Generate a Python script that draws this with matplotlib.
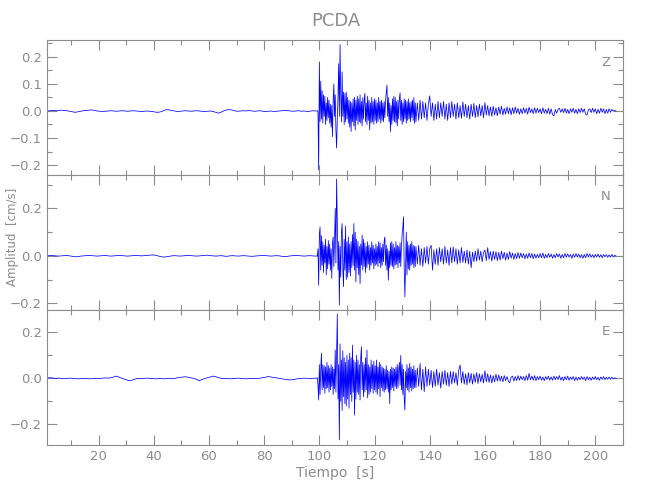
import numpy as np
import matplotlib
matplotlib.use('Agg')
import matplotlib.pyplot as plt
from matplotlib.ticker import MultipleLocator

plt.rcParams['font.family'] = ['Liberation Sans Narrow', 'DejaVu Sans']

# Velocity records of station PCDA, values in 0.001 cm/s.
# Each record is stored in three pieces with their own sample spacing:
# quiet part (1 s), strong motion (0.25 s), coda (0.5 s).
quiet_start, quiet_step = 1.5, 1.0
strong_start, strong_step = 99.0, 0.25
coda_start, coda_step = 135.0, 0.5

z_quiet = [0, 1, 2, 1, 2, 3, 2, 1, -1, -3,
           -5, -3, -1, 1, 2, 3, 4, 2, 0, -1,
           -2, -1, 0, 1, 0, -1, 0, 1, 0, -1,
           0, 1, 0, -1, -2, -1, 0, -1, -2, -4,
           -5, -3, 1, 5, 4, 2, 0, -2, -1, 0,
           1, 0, -1, 0, 1, 0, -1, -2, -1, 0,
           -2, -5, -8, -4, 1, 4, 5, 3, 0, -1,
           0, 1, 0, 2, 0, -1, 0, 1, -1, -2,
           -1, 0, -2, -1, 0, 1, 2, 1, 0, -1,
           0, 1, -1, 0, -2, -1, 1, 0]
z_strong = [0, 2, -3, -218, 182, -40, 110, -30, 75, -45, 60, -20,
            55, -50, 30, -35, 50, -25, 40, -45, 25, -60, 20, -95,
            40, 100, -20, 60, -70, -137, -30, 50, 175, -20, 246, 60,
            -40, 145, -20, 70, -50, 65, -40, 70, -30, 50, -45, 40,
            -60, 35, -76, 30, -40, 45, -55, 50, -70, 40, -35, 55,
            -50, 45, -40, 60, -45, 35, -55, 50, -30, 40, 65, -40,
            30, -50, 55, -35, 40, -70, 30, -45, 50, -40, 35, -50,
            45, -35, 40, -45, 30, -40, 50, -30, 35, -45, 40, -35,
            30, -40, 35, -25, 40, 70, 96, -20, 50, -40, 30, -76,
            20, -50, 45, -35, 55, -40, 50, -45, 35, -55, 40, -30,
            45, 67, -35, 40, -50, 30, -40, 45, -30, 40, -45, 35,
            -35, 45, -30, 30, -40, 35, -25, 40, -35, 50, -46, 30]
z_coda = [-40, 30, -35, 40, -30, 35, -25, 30, -35, 25,
          56, -20, 30, -35, 25, -30, 35, -25, 30, -20,
          35, -30, 25, -35, 30, -25, 35, -20, 25, -30,
          30, -25, 20, -27, 34, -20, 25, -25, 20, -30,
          25, -20, 28, -25, 20, -22, 25, -18, 20, -25,
          31, -15, 20, -18, 15, -20, 18, -15, 12, -18,
          15, -12, 18, -15, 10, -12, 15, -10, 12, -14,
          12, -10, 15, -8, 10, -12, 8, -10, 12, -8,
          10, -12, 14, -6, 8, -10, 12, -8, 10, -6,
          8, -10, 12, -8, 6, -10, 10, -12, 8, -14,
          -18, 5, -8, 6, 10, -5, 8, -6, 10, -8,
          6, -10, 8, -5, 10, -8, 6, -10, 8, -6,
          10, -5, 8, -12, -15, 4, 8, -6, 10, -5,
          8, -10, 6, -8, 10, -5, 8, -10, 6, -8,
          8, -5, 6, 0, 2, 0]

n_quiet = [0, 2, 1, 0, -1, 0, 1, 2, 0, -2,
           -4, -3, -1, 0, 1, 2, 1, 0, -1, 0,
           1, 2, 0, -1, 0, 1, 2, 1, 0, -1,
           0, 1, 2, 1, 0, 1, 2, 3, 4, 3,
           0, -3, -5, -4, -2, 0, 1, 0, -1, 0,
           1, 2, 1, 0, -1, 0, 1, 2, 3, 1,
           0, -1, 0, 1, -1, -2, 0, 1, 0, -1,
           0, 1, 0, -1, -2, -1, 0, 1, 2, 1,
           0, -1, 0, 1, 0, -2, -3, -2, 0, 1,
           2, 1, 0, -1, 0, 1, 0, -1]
n_strong = [0, -2, 30, -124, 90, 122, -60, 85, -40, 60, -70, 45,
            -30, 70, -80, 40, -55, 65, -35, 50, -60, 30, -95, 55,
            80, -45, 60, 200, -30, 324, 150, -60, 60, -208, 40, -90,
            100, 136, -50, -130, 70, -60, 125, -100, 60, -90, 80, -70,
            50, -85, 60, -50, 90, -40, 136, -60, 100, -110, 70, -50,
            60, -80, 40, -117, 50, -40, 87, -60, 70, -45, 55, -70,
            40, -50, 60, -35, 45, -60, 35, -40, 60, -30, 45, -55,
            30, -40, 50, -35, 40, -45, 60, -30, 55, -50, 35, -40,
            50, -25, 65, 80, -40, 45, -60, 30, -103, 20, -50, 55,
            -40, 60, -45, 50, -55, 35, -40, 60, -35, 45, -50, 40,
            -30, 55, -45, 40, 90, 120, 165, -50, -173, -40, 100, -80,
            60, -55, 45, -60, 50, -40, 60, -35, 45, -50, 40, -45]
n_coda = [40, -35, 45, -40, 30, -45, 35, -30, 40, -35,
          30, 45, -60, 25, -35, 30, -40, 35, -25, 30,
          -35, 40, -30, 25, -40, 35, -30, 38, -25, 30,
          -35, 25, -30, 35, -28, 20, -30, 25, -35, 20,
          -50, 15, -25, 20, -22, 30, -18, 20, -25, 15,
          25, -20, 35, -15, 18, -22, 20, -15, 18, -20,
          15, -18, 20, -12, 15, -18, 12, -15, 18, -10,
          12, -15, 10, -12, 14, -10, 12, -8, 10, -12,
          8, -10, 12, -8, 10, -12, 8, -10, 6, -8,
          10, -8, 12, -10, 6, -8, 10, -6, 8, -10,
          6, -8, 10, -5, 8, -10, 6, -8, 10, -6,
          8, -5, 6, -10, 8, -6, 10, -5, 8, -8,
          5, -10, 6, -8, 10, -5, 8, -6, 5, -8,
          6, -5, 8, -6, 5, -8, 6, -4, 5, -6,
          4, -5, 6, -4, 2, 0]

e_quiet = [2, 3, 1, 0, 1, 0, -1, 0, 1, 0,
           -1, -2, -1, 0, -1, -2, -1, 0, -1, 0,
           1, 2, 1, 3, 6, 10, 5, 0, -4, -8,
           -10, -6, -2, 0, -1, 0, 1, 0, -1, -2,
           -1, 0, -2, -1, 0, -1, 0, 2, 4, 6,
           7, 5, 2, 0, -4, -10, -5, 0, 3, 6,
           10, 7, 3, 0, -1, 0, -2, -1, 0, 1,
           0, -1, -2, -1, 0, -1, 0, 1, 3, 5,
           8, 6, 4, 2, 0, -2, -4, -6, -7, -5,
           -3, -1, 0, 1, 0, -1, 0, 1]
e_strong = [0, 3, -30, -94, 60, -70, 40, 110, -50, 60, -40, 55,
            -65, 50, -45, 70, -40, 55, -60, 45, -50, 60, -35, 50,
            -70, 40, -45, 123, -60, 100, 280, -90, 60, -268, 150, -100,
            80, -140, 120, -80, 90, -110, 70, -120, 100, -90, 80, -130,
            110, -70, 90, -100, 145, -60, 80, -160, 70, -90, 100, -60,
            80, -70, 60, -94, 90, 138, -50, 70, -80, 60, -60, 90,
            -50, 123, -85, 60, -70, 50, -60, 80, -45, 60, -65, 75,
            -50, 55, -60, 80, -70, 50, -45, 70, -80, 60, -40, 50,
            -55, 45, -60, 40, -50, 55, -45, 35, -60, 30, -110, 40,
            -50, 50, -40, 45, -55, 40, -35, 50, -45, 60, -40, 35,
            70, -30, 100, -50, 60, -70, 40, -90, -138, 30, -40, 60,
            -50, 45, -60, 65, -40, 50, -55, 40, -45, 55, -40, 35]
e_coda = [-40, 45, -35, 65, -50, 40, -58, 50, -35, 40,
          -30, 35, -40, 30, -35, 40, -30, 25, -43, 30,
          -25, 35, -30, 25, -35, 30, -25, 30, -20, 25,
          -30, 35, 58, -20, 30, -25, 20, -28, 25, -20,
          22, -25, 20, -18, 25, -22, 20, -15, 18, -20,
          33, -15, 20, -18, 15, -20, 12, -15, 18, -12,
          15, -12, 10, -15, 12, -10, 8, -12, -19, 5,
          10, -12, 8, -10, 12, -8, 10, -6, 8, -10,
          12, -8, 22, -6, 10, -8, 12, -10, 8, -6,
          10, -8, 6, -10, 8, -5, 10, -8, 6, -8,
          10, -6, 8, -5, 12, -8, 6, -10, 8, -6,
          10, -8, 6, -5, 8, -10, 6, -8, 5, -6,
          8, -5, 6, -10, 8, -6, 5, -8, 6, -5,
          8, -6, 5, -8, 6, -4, 8, -6, 5, -4,
          6, -4, 5, -3, 2, 0]

components = ['Z', 'N', 'E']
records = {'Z': (z_quiet, z_strong, z_coda),
           'N': (n_quiet, n_strong, n_coda),
           'E': (e_quiet, e_strong, e_coda)}
y_limits = {'Z': (-0.238, 0.261), 'N': (-0.229, 0.340), 'E': (-0.290, 0.297)}
y_major = {'Z': 0.1, 'N': 0.2, 'E': 0.2}
y_minor = {'Z': 0.05, 'N': 0.1, 'E': 0.1}


def build_trace(quiet, strong, coda):
    t = np.concatenate([quiet_start + quiet_step * np.arange(len(quiet)),
                        strong_start + strong_step * np.arange(len(strong)),
                        coda_start + coda_step * np.arange(len(coda))])
    v = np.concatenate([quiet, strong, coda]) * 1e-3
    return t, v


gray = '#8c8c8c'
fig = plt.figure(figsize=(6.5, 5), dpi=100)
bottoms = [0.6494, 0.3797, 0.110]
axes = []
for comp, b in zip(components, bottoms):
    ax = fig.add_axes([0.0723, b, 0.886, 0.2697])
    t, v = build_trace(*records[comp])
    ax.plot(t, v, color='#0000ff', lw=0.55)
    ax.set_xlim(1.3, 210)
    ax.set_ylim(*y_limits[comp])
    ax.xaxis.set_major_locator(MultipleLocator(20))
    ax.xaxis.set_minor_locator(MultipleLocator(10))
    ax.yaxis.set_major_locator(MultipleLocator(y_major[comp]))
    ax.yaxis.set_minor_locator(MultipleLocator(y_minor[comp]))
    ax.yaxis.set_major_formatter(plt.FuncFormatter(
        lambda y, pos: ('%.1f' % abs(y)) if round(y, 3) >= 0 else '\u2212%.1f' % abs(y)))
    ax.tick_params(which='both', direction='in', top=True, right=True,
                   color=gray, labelcolor=gray, labelsize=9.5, width=0.8)
    ax.tick_params(which='major', length=7)
    ax.tick_params(which='minor', length=3.6)
    for s in ax.spines.values():
        s.set_color(gray)
        s.set_linewidth(0.8)
    ax.text(0.97, 0.84, comp, transform=ax.transAxes, color=gray,
            fontsize=9.5, ha='center', va='center')
    if comp != 'E':
        ax.tick_params(labelbottom=False)
    axes.append(ax)

axes[-1].set_xlabel('Tiempo  [s]', color=gray, fontsize=10, labelpad=2)
fig.text(0.02, 0.526, 'Amplitud  [cm/s]', rotation=90, color=gray,
         fontsize=8.5, ha='center', va='center')
fig.text(0.517, 0.958, 'PCDA', color=gray, fontsize=13, ha='center', va='center')

plt.savefig('out.png', dpi=100)
